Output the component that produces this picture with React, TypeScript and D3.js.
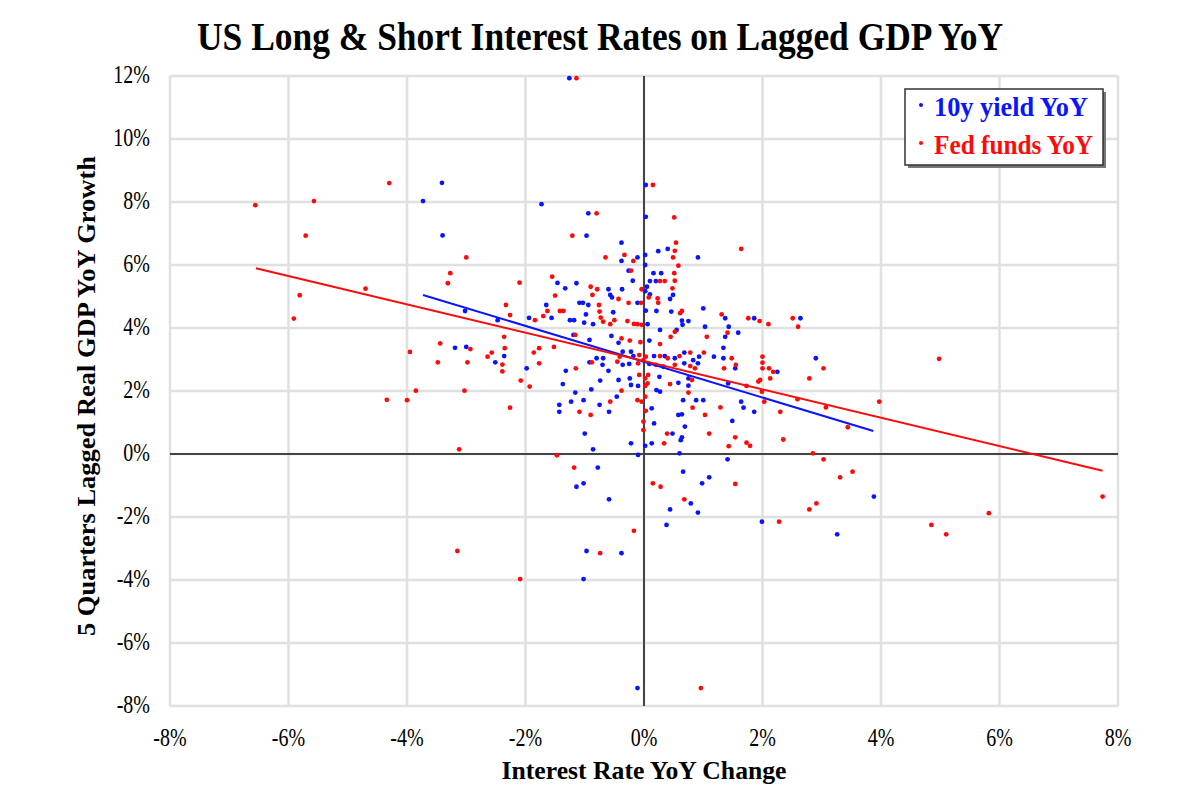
import React from 'react';
import * as d3 from 'd3';

// data: [interest rate YoY change %, 5Q lagged real GDP YoY %]
const blueSeries: [number, number][] = [
  [-3.41, 8.61], [-3.73, 8.03], [-3.4, 6.94], [-1.73, 7.93], [-1.46, 5.43], [-1.65, 4.73], [-3.02, 4.54],
  [-2.47, 4.25], [-1.94, 4.32], [-1.56, 4.32], [-3.19, 3.37], [-3.0, 3.4], [-2.36, 3.11], [-2.51, 2.91],
  [-1.98, 2.72], [-1.43, 1.56], [-1.43, 1.34],
  [0.03, 8.54], [-0.94, 7.64], [0.03, 7.53], [-0.97, 6.93], [-0.38, 6.71], [0.24, 6.44], [0.4, 6.51],
  [0.02, 6.32], [0.91, 6.24], [-0.11, 6.24], [-0.38, 6.13], [0.02, 6.0], [-0.26, 5.82], [-0.19, 5.5],
  [0.16, 5.74], [0.29, 5.74], [0.1, 5.49], [0.2, 5.49], [-1.33, 5.26], [-1.14, 5.42], [-0.6, 5.23],
  [-0.37, 5.23], [0.05, 5.31], [0.02, 5.17], [-0.57, 5.05], [-0.54, 4.97], [0.1, 5.07], [0.44, 4.92],
  [0.49, 5.05], [-1.09, 4.8], [-1.03, 4.8], [-0.94, 4.73], [-0.11, 4.8], [1.0, 4.62], [-0.98, 4.43],
  [-0.52, 4.5], [0.03, 4.55], [0.21, 4.54], [0.46, 4.52], [-1.18, 4.25], [-1.25, 4.25], [-1.01, 4.17],
  [-0.86, 4.12], [0.06, 4.12], [0.27, 3.94], [0.64, 4.23], [0.75, 4.22], [0.55, 3.94], [0.65, 4.1],
  [1.03, 4.04], [-1.19, 3.78], [-0.92, 3.62], [-0.55, 3.75], [-0.43, 3.53], [0.09, 3.6],
  [-0.8, 3.04], [-0.69, 3.04], [-0.36, 3.25], [-0.22, 3.25], [-0.18, 3.11], [0.17, 3.11], [0.35, 3.11],
  [0.52, 3.04], [0.68, 3.22], [0.83, 2.98], [0.93, 3.09], [1.18, 3.09], [-0.92, 2.91], [-0.7, 2.83],
  [-0.36, 2.83], [-0.25, 2.86], [0.09, 2.86], [0.33, 2.77], [0.68, 2.88], [0.91, 2.88], [-1.32, 2.64],
  [-0.6, 2.64], [-0.43, 2.35], [-0.24, 2.4], [0.26, 2.45], [0.58, 2.26], [0.75, 2.4], [0.75, 2.17],
  [-1.37, 2.22], [-0.89, 2.05], [-0.74, 2.33], [-0.22, 2.19], [-0.1, 2.16], [0.21, 2.03], [0.27, 1.98],
  [-1.16, 1.95], [-1.02, 1.71], [-1.23, 1.66], [-0.75, 1.56], [-0.46, 1.82], [-0.59, 1.34], [0.13, 1.45],
  [0.66, 1.71], [0.88, 1.71], [1.0, 1.71], [0.58, 1.24], [0.64, 1.26], [-1.0, 0.65], [0.17, 0.97],
  [0.48, 0.65], [0.64, 0.53], [0.62, 0.44], [0.69, 0.87], [-0.86, 0.15], [-0.22, 0.34], [0.13, 0.34],
  [0.02, 0.26], [-0.1, -0.03], [0.6, 0.02], [-0.78, -0.43], [0.66, -0.56], [1.1, -0.74], [-1.14, -1.04],
  [-1.02, -0.93], [0.98, -0.93], [-0.59, -1.44], [0.79, -1.57], [0.44, -1.76], [0.91, -1.86], [0.38, -2.25],
  [-0.97, -3.08], [-0.38, -3.15], [-1.02, -3.97], [-0.11, -7.43], [-1.26, 11.93],
  [1.37, 4.31], [1.43, 4.04], [1.86, 4.31], [2.64, 4.31], [1.37, 3.72], [1.59, 3.85], [1.34, 3.37],
  [1.34, 3.04], [1.54, 2.72], [2.25, 2.61], [2.9, 3.04], [1.42, 2.24], [1.64, 1.66], [1.68, 1.47],
  [1.86, 1.34], [1.49, 1.05], [1.41, -0.17], [3.88, -1.35], [1.99, -2.15], [3.26, -2.55],
];

const redSeries: [number, number][] = [
  [-6.56, 7.9], [-5.57, 8.03], [-5.71, 6.93], [-4.3, 8.6], [-4.7, 5.25], [-5.81, 5.04], [-5.91, 4.3],
  [-4.34, 1.72], [-3.95, 3.24], [-4.0, 1.71], [-3.85, 2.01], [-3.44, 3.51], [-3.0, 6.24], [-3.27, 5.74],
  [-3.31, 5.42], [-3.48, 2.91], [-2.98, 2.91], [-3.03, 2.01], [-3.12, 0.15], [-3.15, -3.08], [-2.09, -3.97],
  [-2.93, 3.33],
  [-2.1, 5.44], [-1.55, 5.63], [-1.5, 5.03], [-2.33, 4.73], [-2.26, 4.41], [-2.36, 3.72], [-1.84, 4.25],
  [-1.7, 4.38], [-1.63, 4.54], [-1.42, 4.54], [-2.35, 3.36], [-1.77, 3.36], [-1.52, 3.4],
  [-2.64, 3.09], [-2.57, 3.22], [-2.39, 2.84], [-2.39, 2.62], [-2.08, 2.33], [-1.93, 2.14], [-1.77, 2.88],
  [-1.86, 3.22], [-2.26, 1.47], [-1.47, -0.04],
  [0.15, 8.54], [-0.8, 7.64], [0.51, 7.51], [-1.21, 6.93], [0.54, 6.71], [0.52, 6.45], [-0.33, 6.32],
  [0.49, 6.24], [-0.65, 6.24], [-0.18, 6.13], [0.58, 5.98], [-0.22, 5.82], [0.51, 5.74], [0.27, 5.49],
  [0.35, 5.49], [0.52, 5.5], [-0.9, 5.31], [-0.79, 5.23], [-0.04, 5.23], [0.48, 5.26], [-0.87, 5.05],
  [-0.43, 4.92], [0.08, 4.97], [0.23, 4.94], [-0.76, 4.73], [-0.26, 4.8], [-0.05, 4.8], [0.24, 4.8],
  [-1.36, 4.54], [-0.75, 4.52], [-0.73, 4.33], [-0.5, 4.25], [0.64, 4.54], [0.61, 4.47], [-0.69, 4.2],
  [-0.57, 4.12], [-0.28, 4.22], [-0.17, 4.13], [-0.11, 4.12], [-0.04, 4.1], [0.52, 3.88], [1.06, 3.72],
  [-1.16, 3.78], [-0.38, 3.67], [-0.24, 3.6], [-0.06, 3.55], [0.27, 3.49], [0.45, 3.72],
  [-0.41, 3.09], [-0.08, 3.14], [0.03, 3.09], [0.27, 3.11], [0.4, 3.04], [0.6, 3.11], [0.78, 3.22],
  [1.01, 3.22], [-0.88, 2.91], [-0.45, 2.93], [-0.1, 2.88], [-0.01, 2.98], [0.2, 2.83], [0.52, 2.83],
  [0.78, 2.79], [0.86, 2.72], [-1.15, 2.72], [-0.08, 2.51], [0.02, 2.4], [0.07, 2.51], [0.44, 2.22],
  [0.81, 2.35], [-0.38, 2.01], [0.02, 2.16], [0.06, 2.24], [0.75, 1.95], [-0.57, 1.66], [-0.11, 1.71],
  [0.02, 1.82], [-0.04, 1.66], [0.03, 1.37], [0.82, 1.47], [1.03, 1.24], [-1.09, 1.34], [-0.9, 1.24],
  [-0.01, 1.03], [-0.01, 0.76], [0.39, 0.65], [1.1, 0.65], [0.34, 0.34], [-1.18, -0.43], [0.15, -0.93],
  [0.28, -1.04], [0.68, -1.44], [-0.17, -2.44], [-0.74, -3.15], [0.96, -7.43], [-1.14, 11.93],
  [1.64, 6.51], [1.31, 4.43], [1.76, 4.31], [1.95, 4.22], [2.1, 4.12], [2.51, 4.31], [2.6, 4.04],
  [1.41, 3.85], [1.48, 3.04], [1.35, 2.72], [1.55, 2.83], [2.0, 3.09], [2.0, 2.9], [2.0, 2.72],
  [2.11, 2.72], [2.18, 2.61], [2.13, 2.4], [1.96, 2.35], [1.93, 2.3], [3.03, 2.72], [2.79, 2.4],
  [1.99, 1.98], [2.03, 1.66], [1.73, 2.16], [1.29, 1.48], [2.3, 1.34], [2.59, 1.74], [3.07, 1.48],
  [3.44, 0.85], [3.97, 1.66], [1.54, 0.53], [1.43, 0.25], [1.73, 0.36], [1.79, 0.26], [2.35, 0.46],
  [2.85, 0.02], [3.03, -0.17], [3.52, -0.56], [3.31, -0.74], [1.54, -0.95], [2.91, -1.57], [2.79, -1.76],
  [2.28, -2.15],
  [4.98, 3.02], [4.85, -2.25], [5.1, -2.55], [5.82, -1.88], [7.74, -1.35],
];

// linear fits: [xStart, xEnd, intercept, slope]
const blueTrend = [-3.73, 3.87, 2.93, -0.568];
const redTrend = [-6.55, 7.74, 2.95, -0.45];

const xTicks = [-8, -6, -4, -2, 0, 2, 4, 6, 8];
const yTicks = [-8, -6, -4, -2, 0, 2, 4, 6, 8, 10, 12];
const legendLabels = ['10y yield YoY', 'Fed funds YoY'];

const BLUE = '#0a14ff';
const RED = '#ff0a0a';
const FONT = '"Liberation Serif", "Times New Roman", serif';

function Stretch({ x, y, sy, children, ...rest }: any) {
  return (
    <text transform={`translate(${x},${y}) scale(1,${sy})`} fontFamily={FONT} {...rest}>
      {children}
    </text>
  );
}

export default function App() {
  const width = 1200;
  const height = 800;
  const left = 170;
  const right = 1118;
  const top = 76;
  const bottom = 706;

  const xScale = d3.scaleLinear().domain([-8, 8]).range([left, right]);
  const yScale = d3.scaleLinear().domain([-8, 12]).range([bottom, top]);

  const trendLine = (t: number[]) =>
    d3
      .line<number>()
      .x((d) => xScale(d))
      .y((d) => yScale(t[2] + t[3] * d))([t[0], t[1]]) || '';

  const fmt = (v: number) => `${v}%`;

  return (
    <svg
      width={width}
      height={height}
      style={{ position: 'absolute', left: 0, top: 0, background: '#fff' }}
    >
      <Stretch x={600} y={50} sy={1.3} fontSize={30} fontWeight="bold" textAnchor="middle"
        textLength={806} lengthAdjust="spacingAndGlyphs">
        US Long &amp; Short Interest Rates on Lagged GDP YoY
      </Stretch>

      {/* grid */}
      <g stroke="#e0e0e0" strokeWidth={2.5}>
        {xTicks.map((t) => (
          <line key={'gx' + t} x1={xScale(t)} x2={xScale(t)} y1={top} y2={bottom} />
        ))}
        {yTicks.map((t) => (
          <line key={'gy' + t} x1={left} x2={right} y1={yScale(t)} y2={yScale(t)} />
        ))}
      </g>
      {/* zero axes */}
      <line x1={left} x2={right} y1={yScale(0)} y2={yScale(0)} stroke="#444" strokeWidth={2} />
      <line x1={xScale(0)} x2={xScale(0)} y1={top} y2={bottom} stroke="#444" strokeWidth={2} />

      {/* tick labels */}
      {yTicks.map((t) => (
        <Stretch key={'ly' + t} x={150} y={yScale(t) + 7} sy={1.25} fontSize={20} textAnchor="end">
          {fmt(t)}
        </Stretch>
      ))}
      {xTicks.map((t) => (
        <Stretch key={'lx' + t} x={xScale(t)} y={746} sy={1.25} fontSize={20} textAnchor="middle">
          {fmt(t)}
        </Stretch>
      ))}

      {/* axis titles */}
      <Stretch x={644} y={779} sy={1.25} fontSize={20} fontWeight="bold" textAnchor="middle"
        textLength={285} lengthAdjust="spacingAndGlyphs">
        Interest Rate YoY Change
      </Stretch>
      <text transform="translate(95,396) rotate(-90) scale(1,1.25)" fontFamily={FONT} fontSize={20}
        fontWeight="bold" textAnchor="middle" textLength={480} lengthAdjust="spacingAndGlyphs">
        5 Quarters  Lagged Real GDP YoY Growth
      </text>

      {/* points */}
      <g fill={BLUE}>
        {blueSeries.map((d, i) => (
          <circle key={'b' + i} cx={xScale(d[0])} cy={yScale(d[1])} r={2.4} />
        ))}
      </g>
      <g fill={RED}>
        {redSeries.map((d, i) => (
          <circle key={'r' + i} cx={xScale(d[0])} cy={yScale(d[1])} r={2.4} />
        ))}
      </g>

      {/* trend lines */}
      <path d={trendLine(blueTrend)} stroke={BLUE} strokeWidth={2} fill="none" />
      <path d={trendLine(redTrend)} stroke={RED} strokeWidth={2} fill="none" />

      {/* legend */}
      <rect x={908} y={92} width={198} height={76} fill="#777" />
      <rect x={905} y={89} width={198} height={76} fill="#fff" stroke="#333" strokeWidth={1.5} />
      {legendLabels.map((label, i) => (
        <g key={label}>
          <circle cx={921} cy={105 + i * 38} r={2} fill={i === 0 ? BLUE : RED} />
          <Stretch x={934} y={116 + i * 38} sy={1.25} fontSize={21} fontWeight="bold"
            fill={i === 0 ? BLUE : RED} textLength={i === 0 ? 154 : 159} lengthAdjust="spacingAndGlyphs">
            {label}
          </Stretch>
        </g>
      ))}
    </svg>
  );
}
